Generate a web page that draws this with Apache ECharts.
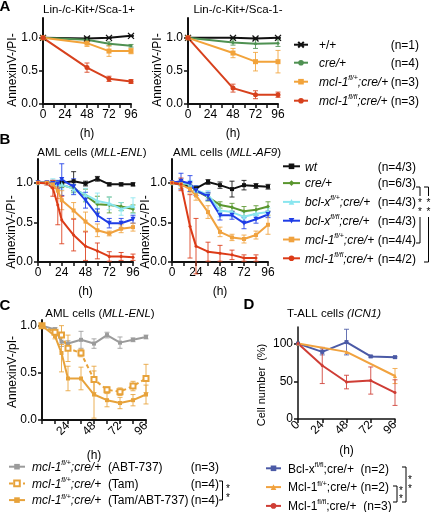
<!DOCTYPE html>
<html><head><meta charset="utf-8">
<script src="https://cdn.jsdelivr.net/npm/echarts@6/dist/echarts.min.js"></script>
<style>html,body{margin:0;padding:0;background:#fff}#c{width:432px;height:512px}</style>
</head><body><div id="c"></div>
<script>
// ================= DATA =================
// Panel A (Lin-/c-Kit+/Sca-1+ and Lin-/c-Kit+/Sca-1-)
const A_T = [0, 48, 72, 96];
const A1_wt  = [1.00, 0.99, 1.00, 1.03];  const A1_wt_e  = [0, 0.02, 0.01, 0.01];
const A1_cre = [1.00, 0.97, 0.91, 0.88];  const A1_cre_e = [0, 0.03, 0.03, 0.02];
const A1_het = [1.00, 0.92, 0.80, 0.80];  const A1_het_e = [0, 0.05, 0.08, 0.04];
const A1_hom = [1.00, 0.55, 0.38, 0.34];  const A1_hom_e = [0, 0.07, 0.04, 0.03];
const A2_wt  = [1.00, 1.00, 0.99, 1.00];  const A2_wt_e  = [0, 0.01, 0.01, 0.01];
const A2_cre = [1.00, 0.93, 0.91, 0.92];  const A2_cre_e = [0, 0.04, 0.07, 0.05];
const A2_het = [1.00, 0.77, 0.64, 0.64];  const A2_het_e = [0, 0.07, 0.14, 0.17];
const A2_hom = [1.00, 0.24, 0.14, 0.14];  const A2_hom_e = [0, 0.06, 0.06, 0.04];
const A_NAMES = ['A_wt', 'A_cre', 'A_het', 'A_hom'];
const A_LABELS = ['{g|}{r|+/+}{n|(n=1)}', '{g|}{i|cre/+}{n|(n=4)}',
  '{g|}{i|mcl-1}{s|fl/+}{i|;cre/+}{n|(n=3)}', '{g|}{i|mcl-1}{s|fl/fl}{i|;cre/+}{n|(n=3)}'];

// Panel B (AML cells MLL-ENL / MLL-AF9)
const BL_T = [0, 9, 15, 20, 24, 36, 48, 60, 72, 84, 96];
const BL_wt  = [1.00, null, null, null, 1.00, 1.02, 0.99, 1.05, 0.98, 0.98, 0.98];
const BL_wt_e  = [0, 0, 0, 0, 0.03, 0.12, 0.03, 0.03, 0.02, 0.02, 0.02];
const BL_cre = [1.00, 1.00, 1.00, 0.98, 0.97, 0.93, 0.84, 0.73, 0.72, 0.70, 0.67];
const BL_cre_e = [0, 0, 0, 0.03, 0.03, 0.05, 0.08, 0.10, 0.10, 0.05, 0.05];
const BL_bxh = [1.00, 1.00, 1.00, 0.99, 0.98, 0.92, 0.85, 0.77, 0.74, 0.67, 0.71];
const BL_bxh_e = [0, 0, 0.05, 0.04, 0.06, 0.05, 0.08, 0.10, 0.08, 0.08, 0.10];
const BL_bxo = [1.00, 1.00, 0.99, 0.98, 1.04, 0.95, 0.78, 0.59, 0.49, 0.49, 0.54];
const BL_bxo_e = [0, 0, 0.04, 0.05, 0.20, 0.10, 0.10, 0.08, 0.06, 0.06, 0.05];
const BL_mh  = [1.00, 1.00, 0.98, 0.90, 0.78, 0.65, 0.51, 0.40, 0.36, 0.42, 0.44];
const BL_mh_e  = [0, 0, 0.05, 0.10, 0.12, 0.10, 0.12, 0.08, 0.03, 0.05, 0.05];
const BL_mo  = [1.00, 0.99, 0.93, 0.72, 0.53, 0.34, 0.20, 0.14, 0.07, 0.07, 0.06];
const BL_mo_e  = [0, 0.02, 0.10, 0.25, 0.30, 0.20, 0.18, 0.10, 0.06, 0.05, 0.04];

const BR_T = [0, 9, 18, 24, 36, 48, 60, 72, 84, 96];
const BR_wt  = [1.00, null, null, 0.93, 1.01, 0.97, 0.92, 0.97, 0.96, 0.95];
const BR_wt_e  = [0, 0, 0, 0.03, 0.03, 0.04, 0.10, 0.06, 0.03, 0.03];
const BR_cre = [1.00, 1.00, 0.97, 0.90, 0.82, 0.72, 0.69, 0.64, 0.66, 0.70];
const BR_cre_e = [0, 0, 0.03, 0.03, 0.05, 0.04, 0.05, 0.06, 0.05, 0.06];
const BR_bxh = [1.00, 1.00, 0.98, 0.91, 0.85, 0.65, 0.63, 0.57, 0.61, 0.63];
const BR_bxh_e = [0, 0.05, 0.05, 0.05, 0.05, 0.08, 0.06, 0.06, 0.05, 0.05];
const BR_bxo = [1.00, 1.02, 0.99, 0.90, 0.83, 0.59, 0.59, 0.49, 0.54, 0.60];
const BR_bxo_e = [0, 0.10, 0.10, 0.06, 0.05, 0.06, 0.05, 0.07, 0.05, 0.04];
const BR_mh  = [1.00, 0.98, 0.92, 0.84, 0.63, 0.38, 0.31, 0.29, 0.34, 0.47];
const BR_mh_e  = [0, 0.05, 0.05, 0.06, 0.08, 0.06, 0.04, 0.05, 0.05, 0.12];
const BR_mo  = [1.00, 0.98, 0.45, 0.20, 0.13, 0.11, 0.09, 0.05, 0.05, null];
const BR_mo_e  = [0, 0.08, 0.40, 0.35, 0.12, 0.10, 0.06, 0.04, 0.04, 0];
const B_NAMES = ['B_wt', 'B_cre', 'B_bxh', 'B_bxo', 'B_mh', 'B_mo'];
const B_LABELS = ['{i|wt}{n|(n=4/3)}', '{i|cre/+}{n|(n=6/3)}',
  '{i|bcl-x}{s|fl/+}{i|;cre/+}{n|(n=4/3)}', '{i|bcl-x}{s|fl/fl}{i|;cre/+}{n|(n=4/3)}',
  '{i|mcl-1}{s|fl/+}{i|;cre/+}{n|(n=4/4)}', '{i|mcl-1}{s|fl/fl}{i|;cre/+}{n|(n=4/2)}'];

// Panel C (AML cells MLL-ENL, drug treatment)
const C_T = [0, 12, 18, 24, 36, 48, 60, 72, 84, 96];
const C_abt  = [1.00, 0.96, 0.83, 0.81, 0.85, 0.81, 0.90, 0.82, 0.85, 0.88];
const C_abt_e  = [0, 0.02, 0.05, 0.03, 0.09, 0.05, 0.03, 0.06, 0.02, 0.02];
const C_tam  = [1.00, 0.93, 0.90, 0.76, 0.71, 0.43, 0.32, 0.30, 0.36, 0.44];
const C_tam_e  = [0, 0.02, 0.10, 0.14, 0.04, 0.14, 0.03, 0.04, 0.05, 0.15];
const C_both = [1.00, 0.89, 0.71, 0.44, 0.44, 0.27, 0.21, 0.18, 0.21, 0.27];
const C_both_e = [0, 0.03, 0.20, 0.13, 0.12, 0.25, 0.07, 0.06, 0.06, 0.10];
const C_NAMES = ['C_abt', 'C_tam', 'C_both'];
const C_LABELS = ['{g2|}{i|mcl-1}{s|fl/+}{i|;cre/+}{r|  (ABT-737)}{n|(n=3)}',
  '{g2|}{i|mcl-1}{s|fl/+}{i|;cre/+}{r|  (Tam)}{n|(n=4)}',
  '{g2|}{i|mcl-1}{s|fl/+}{i|;cre/+}{r|  (Tam/ABT-737)}{n|(n=4)}'];

// Panel D (T-ALL cells ICN1)
const D_T = [0, 24, 48, 72, 96];
const D_bx = [100, 89, 102, 83, 82];   const D_bx_e = [0, 4, 17, 1, 1];
const D_mh = [100, null, 89, null, 57]; const D_mh_e = [0, 0, 0, 0, 10];
const D_mo = [100, 71, 49, 51, 35];    const D_mo_e = [0, 24, 9, 18, 17];
const D_NAMES = ['D_bx', 'D_mh', 'D_mo'];
const D_LABELS = ['{g2|}{r|Bcl-x}{t|fl/fl}{r|;cre/+  (n=2)}',
  '{g2|}{r|Mcl-1}{t|fl/+}{r|;cre/+ (n=2)}',
  '{g2|}{r|Mcl-1}{t|fl/fl}{r|;cre/+  (n=3)}'];

// ================= CHART =================
const FONT = '"Liberation Sans", Arial, Helvetica, sans-serif';
const BLACK = '#111';
const COL = {
  A_green: '#4f9152', A_orange: '#f2a33a', A_red: '#d7411d',
  B_green: '#5a962e', B_cyan: '#8ae6ef', B_blue: '#1f3de6', B_orange: '#f0a23f', B_red: '#dc3b17',
  C_grey: '#9b9b9b', C_orange: '#e7a23a',
  D_blue: '#4b5aa6', D_orange: '#f1a23e', D_red: '#cf3d35'
};

function pairs(t, v) { const out = []; t.forEach((x, i) => { if (v[i] != null) out.push([x, v[i]]); }); return out; }
function errs(t, v, e) { const out = []; t.forEach((x, i) => { if (v[i] != null && e[i]) out.push([x, v[i] - e[i], v[i] + e[i]]); }); return out; }

function line(name, gi, t, v, color, symbol, size, extra) {
  return Object.assign({
    type: 'line', name, xAxisIndex: gi, yAxisIndex: gi, data: pairs(t, v),
    symbol, symbolSize: size, showAllSymbol: true,
    lineStyle: { color, width: 2 }, itemStyle: { color },
    z: 3, animation: false, silent: true
  }, extra || {});
}
function errBar(gi, t, v, e, color, op) {
  return {
    type: 'custom', xAxisIndex: gi, yAxisIndex: gi, data: errs(t, v, e), silent: true, z: 2,
    encode: { x: 0, y: [1, 2] }, animation: false,
    renderItem(params, api) {
      const x = api.value(0);
      const p1 = api.coord([x, api.value(1)]), p2 = api.coord([x, api.value(2)]);
      const cw = 2.5, st = { stroke: color, lineWidth: 1, opacity: op == null ? 0.85 : op };
      return { type: 'group', children: [
        { type: 'line', shape: { x1: p1[0], y1: p1[1], x2: p2[0], y2: p2[1] }, style: st },
        { type: 'line', shape: { x1: p1[0] - cw, y1: p1[1], x2: p1[0] + cw, y2: p1[1] }, style: st },
        { type: 'line', shape: { x1: p2[0] - cw, y1: p2[1], x2: p2[0] + cw, y2: p2[1] }, style: st }
      ] };
    }
  };
}

const GRIDS = [
  { left: 43, top: 18, width: 88, height: 86 },
  { left: 188, top: 18, width: 90, height: 86 },
  { left: 38, top: 159, width: 95, height: 103 },
  { left: 172, top: 159, width: 96, height: 103 },
  { left: 42, top: 320, width: 104, height: 100 },
  { left: 298, top: 327, width: 97, height: 92 }
].map(g => Object.assign({ containLabel: false, outerBoundsMode: 'none' }, g));

function xAx(gi, o) {
  return Object.assign({
    type: 'value', gridIndex: gi, min: 0, max: 96, interval: 12,
    name: '(h)', nameLocation: 'middle', nameGap: 24,
    nameTextStyle: { fontSize: 12, color: '#000', fontFamily: FONT },
    axisLine: { show: true, onZero: false, lineStyle: { color: BLACK, width: 2 } },
    axisTick: { show: true, length: 4, lineStyle: { color: BLACK, width: 1.5 } },
    axisLabel: { fontSize: 12, color: '#000', fontFamily: FONT, margin: 5,
      formatter: v => (v % 24 === 0 ? String(v) : '') },
    splitLine: { show: false }
  }, o || {});
}
function yAx(gi, max, vals, fmt) {
  return {
    type: 'value', gridIndex: gi, min: 0, max,
    axisLine: { show: true, onZero: false, lineStyle: { color: BLACK, width: 2 } },
    axisTick: { show: true, length: 4, customValues: vals, lineStyle: { color: BLACK, width: 1.5 } },
    axisLabel: { customValues: vals, fontSize: 12, color: '#000', fontFamily: FONT, margin: 5, formatter: fmt },
    splitLine: { show: false }
  };
}
const f1 = v => v.toFixed(1);
const R01 = [0, 0.5, 1.0];

const xAxes = [
  xAx(0), xAx(1), xAx(2), xAx(3),
  xAx(4, { nameGap: 30, axisLabel: { fontSize: 12, color: '#000', fontFamily: FONT, margin: 4, rotate: 45,
    formatter: v => (v > 0 && v % 24 === 0 ? String(v) : '') } }),
  xAx(5, { interval: 24, nameGap: 26, axisLabel: { fontSize: 12, color: '#000', fontFamily: FONT, margin: 4, rotate: 45,
    formatter: v => String(v) }, axisLine: { show: true, onZero: false, lineStyle: { color: BLACK, width: 1.5 } } })
];
const yAxes = [
  yAx(0, 1.3, R01, f1), yAx(1, 1.3, R01, f1), yAx(2, 1.3, R01, f1), yAx(3, 1.3, R01, f1),
  yAx(4, 1.06, R01, f1), yAx(5, 122, [0, 50, 100], v => String(v))
];
yAxes[5].axisLine.lineStyle.width = 1.5;

const series = [];
function add(name, gi, t, v, e, color, sym, size, extra) {
  series.push(errBar(gi, t, v, e, color));
  series.push(line(name, gi, t, v, color, sym, size, extra));
}
const XSYM = 'path://M0,0L10,10M10,0L0,10M0,5L10,5';
// A left
add('A_wt', 0, A_T, A1_wt, A1_wt_e, BLACK, XSYM, 6, { itemStyle: { color: BLACK, borderColor: BLACK, borderWidth: 1.3 } });
add('A_cre', 0, A_T, A1_cre, A1_cre_e, COL.A_green, 'circle', 3);
add('A_het', 0, A_T, A1_het, A1_het_e, COL.A_orange, 'rect', 5);
add('A_hom', 0, A_T, A1_hom, A1_hom_e, COL.A_red, 'circle', 5);
// A right
add('A_wt', 1, A_T, A2_wt, A2_wt_e, BLACK, XSYM, 6, { itemStyle: { color: BLACK, borderColor: BLACK, borderWidth: 1.3 } });
add('A_cre', 1, A_T, A2_cre, A2_cre_e, COL.A_green, 'circle', 3);
add('A_het', 1, A_T, A2_het, A2_het_e, COL.A_orange, 'rect', 5);
add('A_hom', 1, A_T, A2_hom, A2_hom_e, COL.A_red, 'circle', 5);
// B left
add('B_wt', 2, BL_T, BL_wt, BL_wt_e, BLACK, 'rect', 4);
add('B_cre', 2, BL_T, BL_cre, BL_cre_e, COL.B_green, 'diamond', 4);
add('B_bxh', 2, BL_T, BL_bxh, BL_bxh_e, COL.B_cyan, 'triangle', 5);
add('B_bxo', 2, BL_T, BL_bxo, BL_bxo_e, COL.B_blue, 'triangle', 5, { symbolRotate: 180 });
add('B_mh', 2, BL_T, BL_mh, BL_mh_e, COL.B_orange, 'rect', 4);
add('B_mo', 2, BL_T, BL_mo, BL_mo_e, COL.B_red, 'circle', 3);
// B right
add('B_wt', 3, BR_T, BR_wt, BR_wt_e, BLACK, 'rect', 4);
add('B_cre', 3, BR_T, BR_cre, BR_cre_e, COL.B_green, 'diamond', 4);
add('B_bxh', 3, BR_T, BR_bxh, BR_bxh_e, COL.B_cyan, 'triangle', 5);
add('B_bxo', 3, BR_T, BR_bxo, BR_bxo_e, COL.B_blue, 'triangle', 5, { symbolRotate: 180 });
add('B_mh', 3, BR_T, BR_mh, BR_mh_e, COL.B_orange, 'rect', 4);
add('B_mo', 3, BR_T, BR_mo, BR_mo_e, COL.B_red, 'circle', 3);
// C
add('C_abt', 4, C_T, C_abt, C_abt_e, COL.C_grey, 'rect', 4);
add('C_tam', 4, C_T, C_tam, C_tam_e, COL.C_orange, 'emptyRect', 5,
  { lineStyle: { color: COL.C_orange, width: 2, type: [4, 3] }, itemStyle: { color: COL.C_orange, borderWidth: 1 } });
add('C_both', 4, C_T, C_both, C_both_e, COL.C_orange, 'rect', 4);
// D
add('D_bx', 5, D_T, D_bx, D_bx_e, COL.D_blue, 'rect', 4);
add('D_mh', 5, D_T, D_mh, D_mh_e, COL.D_orange, 'triangle', 4);
add('D_mo', 5, D_T, D_mo, D_mo_e, COL.D_red, 'circle', 3);

const RICH = {
  r: { fontSize: 12, fontFamily: FONT, color: '#000', verticalAlign: 'bottom', lineHeight: 14 },
  i: { fontSize: 12, fontFamily: FONT, fontStyle: 'italic', color: '#000', verticalAlign: 'bottom', lineHeight: 14 },
  s: { fontSize: 7, fontFamily: FONT, fontStyle: 'italic', color: '#000', verticalAlign: 'top', lineHeight: 8 },
  t: { fontSize: 7, fontFamily: FONT, color: '#000', verticalAlign: 'top', lineHeight: 8 },
  n: { fontSize: 12, fontFamily: FONT, color: '#000', align: 'right', verticalAlign: 'bottom', lineHeight: 14 },
  g: { width: 6, height: 1 },
  g2: { width: 2, height: 1 }
};
function legend(names, labels, left, top, itemWidth, gap, width) {
  const map = {}; names.forEach((n, i) => map[n] = labels[i]);
  return {
    data: names, orient: 'vertical', left, top, height: 140, padding: 0, itemWidth, itemHeight: 7, itemGap: gap,
    selectedMode: false, formatter: n => map[n],
    textStyle: { fontSize: 12, fontFamily: FONT, color: '#000', width, rich: RICH }
  };
}
const legends = [
  legend(A_NAMES, A_LABELS, 293, 38.7, 14, 5, 106),
  legend(B_NAMES, B_LABELS, 282, 161.3, 17, 4.8, 111),
  legend(C_NAMES, C_LABELS, 8, 459.7, 16, 2.7, 189),
  legend(D_NAMES, D_LABELS, 265, 461.3, 15, 4.8, 103)
];

// ---------- text annotations ----------
const TR = { it: { fontStyle: 'italic', fontSize: 11.5, fontFamily: FONT, fill: '#000' } };
function T(x, y, text, o) {
  return { type: 'text', x, y, silent: true,
    style: Object.assign({ text, fontSize: 11.5, fontFamily: FONT, fill: '#000', align: 'center', verticalAlign: 'middle', rich: TR }, o || {}) };
}
function V(x, y, text, size) {
  return { type: 'text', x, y, rotation: Math.PI / 2, silent: true,
    style: { text, fontSize: size || 12, fontFamily: FONT, fill: '#000', align: 'center', verticalAlign: 'middle' } };
}
function P(points) { return { type: 'polyline', silent: true, shape: { points }, style: { stroke: '#000', lineWidth: 1, fill: null } }; }
function S(x, y) { return T(x, y + 2, '*', { fontSize: 10 }); }

const graphics = [
  T(5, 7, 'A', { fontSize: 15, fontWeight: 'bold' }),
  T(5, 140, 'B', { fontSize: 15, fontWeight: 'bold' }),
  T(5, 306, 'C', { fontSize: 15, fontWeight: 'bold' }),
  T(249, 305, 'D', { fontSize: 15, fontWeight: 'bold' }),
  T(89, 10, 'Lin-/c-Kit+/Sca-1+'),
  T(238, 10, 'Lin-/c-Kit+/Sca-1-'),
  T(92, 153, 'AML cells ({it|MLL-ENL})'),
  T(227, 153, 'AML cells ({it|MLL-AF9})'),
  T(100, 314, 'AML cells ({it|MLL-ENL})'),
  T(334, 314, 'T-ALL cell{it|s (ICN1)}'),
  V(12.7, 70, 'AnnexinV-/PI-'),
  V(157.5, 70, 'AnnexinV-/PI-'),
  V(12, 232, 'AnnexinV-/PI-'),
  V(146, 232, 'AnnexinV-/PI-'),
  V(13, 372, 'AnnexinV-/pI-'),
  V(262, 385, 'Cell number  (%)', 11),
  // B brackets
  P([[416, 187], [420, 187], [420, 196]]), P([[420, 217], [420, 243], [416, 243]]),
  S(420, 201), S(420, 210),
  P([[424, 187], [428.5, 187], [428.5, 196]]), P([[428.5, 217], [428.5, 262], [424, 262]]),
  S(428.5, 201), S(428.5, 210),
  // C bracket
  P([[219, 481], [222.5, 481], [222.5, 500], [219, 500]]), S(228, 487), S(228, 496),
  // D brackets
  P([[393, 486], [397, 486], [397, 502], [393, 502]]), S(401, 489), S(401, 497),
  P([[402, 467], [406, 467], [406, 502], [402, 502]]), S(410, 478), S(410, 487)
];

const chart = echarts.init(document.getElementById('c'), null, { renderer: 'canvas' });
chart.setOption({
  backgroundColor: '#fff', animation: false,
  grid: GRIDS, xAxis: xAxes, yAxis: yAxes, series, legend: legends, graphic: graphics
});
</script></body></html>
